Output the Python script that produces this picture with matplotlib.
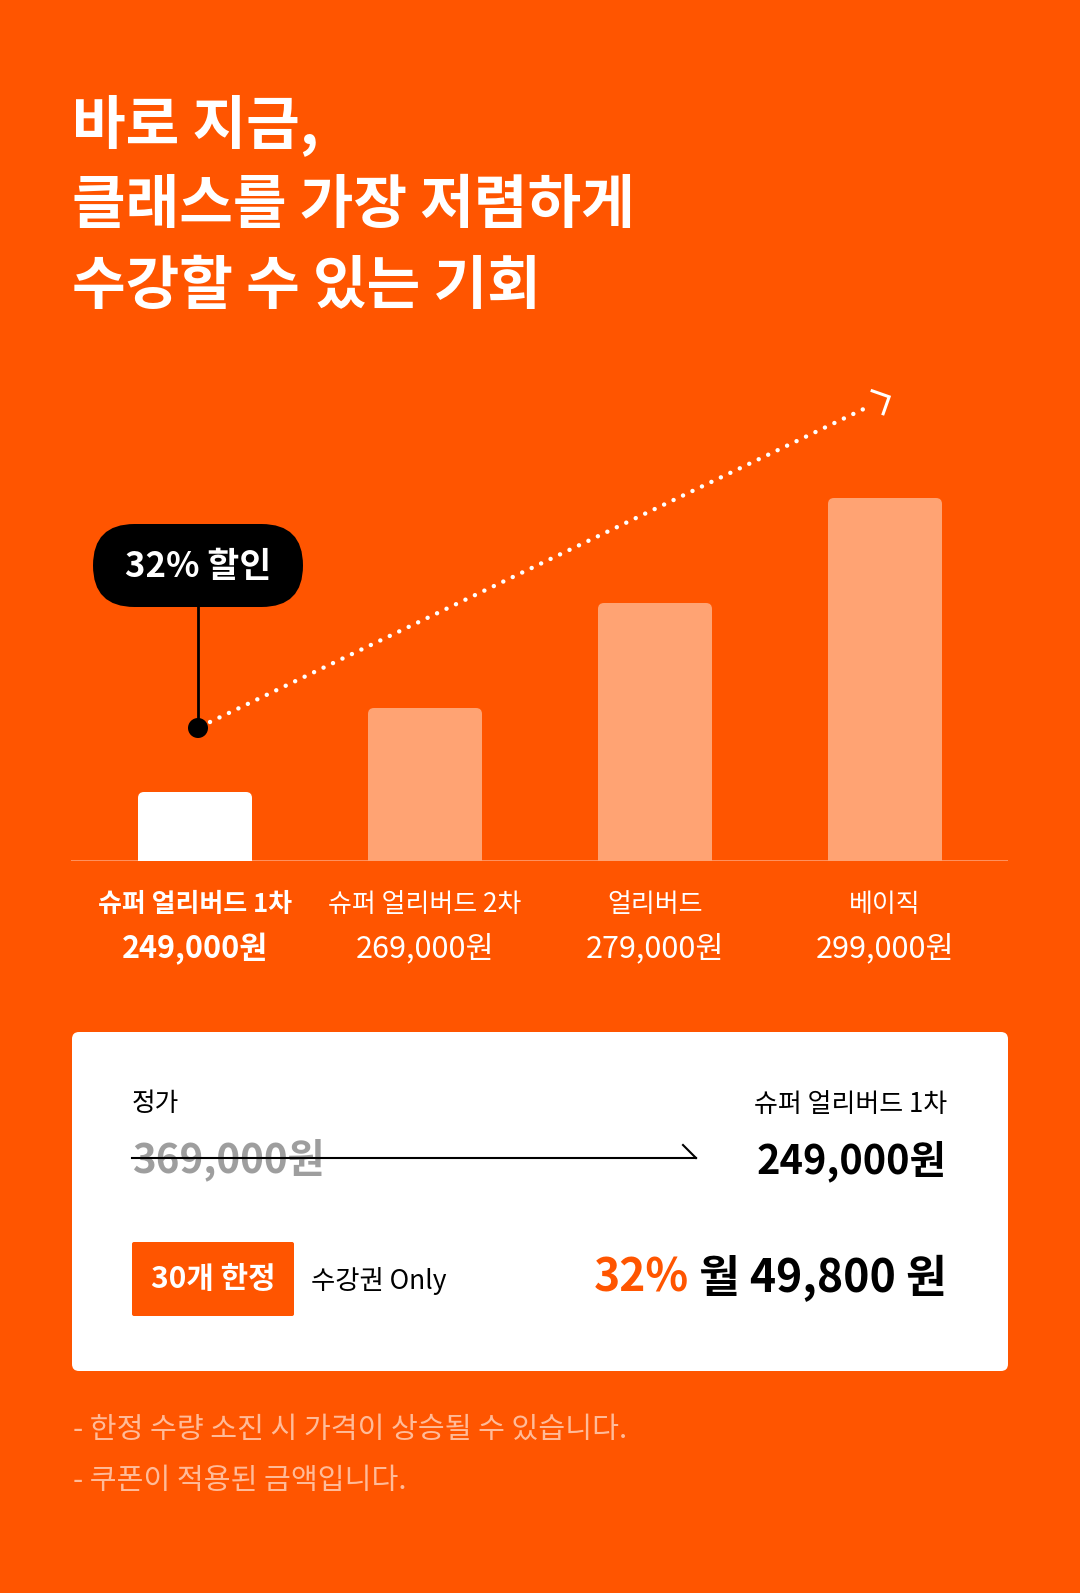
import matplotlib
matplotlib.use('Agg')
import matplotlib.pyplot as plt
from matplotlib.patches import FancyBboxPatch, Circle
from matplotlib.transforms import blended_transform_factory
import numpy as np

plt.rcParams['font.family'] = ['Noto Sans CJK KR', 'DejaVu Sans']

# ---------------- data ----------------
categories = ['슈퍼 얼리버드 1차', '슈퍼 얼리버드 2차', '얼리버드', '베이직']
prices = ['249,000원', '269,000원', '279,000원', '299,000원']
bar_heights = [69, 153, 258, 363]   # drawn bar heights (visual, px)
highlight_idx = 0

title_lines = ['바로 지금,', '클래스를 가장 저렴하게', '수강할 수 있는 기회']
badge_text = '32% 할인'
regular_label = '정가'
regular_price = '369,000원'
offer_label = '슈퍼 얼리버드 1차'
offer_price = '249,000원'
limit_text = '30개 한정'
product_text = '수강권 Only'
discount_text = '32%'
monthly_text = '월 49,800 원'
notes = ['- 한정 수량 소진 시 가격이 상승될 수 있습니다.',
         '- 쿠폰이 적용된 금액입니다.']

# ---------------- style ----------------
ORANGE = '#FF5500'
BAR_LIGHT = '#FFA373'
NOTE = '#FFBB99'
GRAY = '#9E9E9E'
W, H = 1080, 1593

fig = plt.figure(figsize=(W / 100, H / 100), dpi=100, facecolor=ORANGE)

# overlay axes in pixel coordinates
ov = fig.add_axes([0, 0, 1, 1])
ov.set_xlim(0, W)
ov.set_ylim(H, 0)
ov.axis('off')
ov.set_zorder(1)
ov.patch.set_alpha(0)

# bar axes
base_px, top_px = 861, 380
left_px, right_px = 71, 1008
ax = fig.add_axes([left_px / W, (H - base_px) / H,
                   (right_px - left_px) / W, (base_px - top_px) / H])
ax.set_zorder(2)
ax.patch.set_alpha(0)
for s in ax.spines.values():
    s.set_visible(False)
ax.set_xticks([])
ax.set_yticks([])
unit = 230.0
ax.set_xlim((left_px - 195) / unit, (right_px - 195) / unit)
ax.set_ylim(0, base_px - top_px)

x = np.arange(len(categories))
colors = ['white' if i == highlight_idx else BAR_LIGHT for i in range(len(categories))]
bars = ax.bar(x, bar_heights, width=114 / unit, color=colors)
for b, c in zip(bars, colors):
    b.set_visible(False)
    fb = FancyBboxPatch((b.get_x(), -20), b.get_width(), b.get_height() + 20,
                        boxstyle=f"round,pad=0,rounding_size={6 / unit}",
                        mutation_aspect=unit, fc=c, ec='none', zorder=2)
    ax.add_patch(fb)
ax.axhline(0, color='#FF9E70', lw=1.2, zorder=1)

# labels under bars
bt = blended_transform_factory(ax.transData, ov.transData)
for i, (cat, pr) in enumerate(zip(categories, prices)):
    wgt = 'bold' if i == highlight_idx else 'normal'
    ax.text(i, 904, cat, transform=bt, ha='center', va='center',
            color='white', fontsize=18.7, fontweight=wgt)
    ax.text(i, 949, pr, transform=bt, ha='center', va='center',
            color='white', fontsize=22, fontweight=wgt)

# title
for k, line in enumerate(title_lines):
    ov.text(72, 125 + 81 * k, line, ha='left', va='center', color='white',
            fontsize=42, fontweight='bold')

# badge + pointer
bx = ax.transData.transform((highlight_idx, 0))[0] + 3
bubble = FancyBboxPatch((bx - 105, 524), 210, 83,
                        boxstyle="round,pad=0,rounding_size=41.5",
                        fc='black', ec='none', zorder=3)
ov.add_patch(bubble)
ov.text(bx, 566, badge_text, ha='center', va='center', color='white',
        fontsize=25, fontweight='bold', zorder=4)
ov.plot([bx, bx], [607, 728], color='black', lw=2, zorder=3)
ov.add_patch(Circle((bx, 728), 10, fc='black', ec='none', zorder=4))

# dotted trend line with chevron
x0, y0 = bx + 12, 722
x1, y1 = 872, 405
ov.plot([x0, x1], [y0, y1], color='white', lw=3.2,
        linestyle=(0, (0.01, 2.35)), dash_capstyle='round', zorder=3)
u = np.array([x1 - x0, y1 - y0], dtype=float)
u /= np.linalg.norm(u)
tip = np.array([x1, y1]) + u * 19
def rot(v, a):
    ca, sa = np.cos(a), np.sin(a)
    return np.array([ca * v[0] - sa * v[1], sa * v[0] + ca * v[1]])
a1 = tip + rot(-u, np.deg2rad(45)) * 18
a2 = tip + rot(-u, np.deg2rad(-45)) * 18
ov.plot([a1[0], tip[0], a2[0]], [a1[1], tip[1], a2[1]], color='white',
        lw=2.2, solid_joinstyle='miter', zorder=3)

# white card
card = FancyBboxPatch((72, 1032), 936, 339,
                      boxstyle="round,pad=0,rounding_size=7",
                      fc='white', ec='none', zorder=2)
ov.add_patch(card)

ov.text(132, 1104, regular_label, ha='left', va='center', color='black',
        fontsize=18.5, zorder=3)
ov.text(132, 1160, regular_price, ha='left', va='center', color=GRAY,
        fontsize=29, fontweight='bold', zorder=3)
ov.plot([132, 696], [1158, 1158], color='black', lw=1.5, zorder=4)
ov.plot([683, 696], [1145, 1158], color='black', lw=1.5, zorder=4)

ov.text(947, 1104, offer_label, ha='right', va='center', color='black',
        fontsize=18.7, zorder=3)
ov.text(947, 1161, offer_price, ha='right', va='center', color='black',
        fontsize=28.6, fontweight='bold', zorder=3)

lim_box = FancyBboxPatch((132, 1242), 162, 74,
                         boxstyle="round,pad=0,rounding_size=2",
                         fc=ORANGE, ec='none', zorder=3)
ov.add_patch(lim_box)
ov.text(213, 1279, limit_text, ha='center', va='center', color='white',
        fontsize=21.5, fontweight='bold', zorder=4)
ov.text(311, 1281, product_text, ha='left', va='center', color='black',
        fontsize=19, zorder=3)

t_m = ov.text(947, 1279, monthly_text, ha='right', va='center', color='black',
              fontsize=32, fontweight='bold', zorder=3)
fig.canvas.draw()
r = fig.canvas.get_renderer()
bb = t_m.get_window_extent(renderer=r)
ov.text(bb.x0 - 10, 1279, discount_text, ha='right', va='center', color=ORANGE,
        fontsize=32, fontweight='bold', zorder=3)

for k, n in enumerate(notes):
    ov.text(73, 1430 + 51 * k, n, ha='left', va='center', color=NOTE,
            fontsize=21, zorder=3)

fig.savefig('out.png', dpi=100, facecolor=ORANGE)
